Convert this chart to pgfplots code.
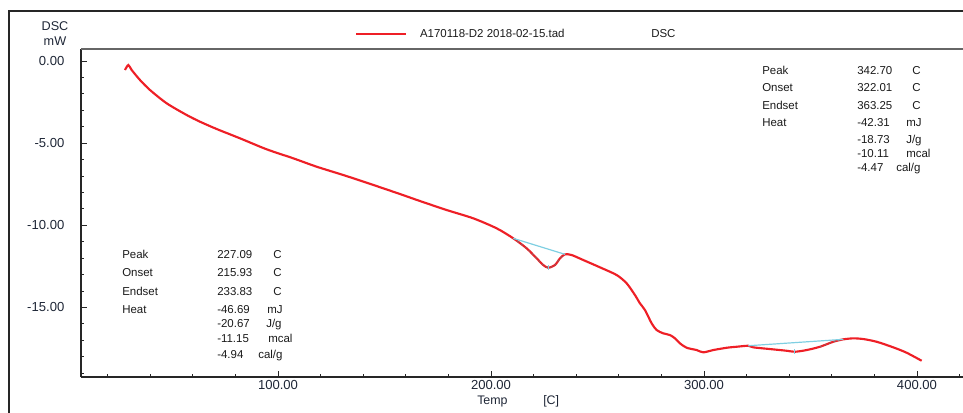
\documentclass[border=0pt]{standalone}
\usepackage{pgfplots}
\pgfplotsset{compat=1.18}
\usepackage{fontspec}
\setmainfont{Liberation Sans}

\definecolor{dscred}{HTML}{EE1F26}
\definecolor{basecyan}{HTML}{7FCFE2}
\definecolor{tickcol}{HTML}{1E2636}
\definecolor{txtcol}{HTML}{1A1A1A}

% pixel grid of the instrument printout: (x,y) from the top-left corner
\tikzset{px/.style={shift={(-60.75pt,282.75pt)}, x=0.75pt, y=-0.75pt}}
\newcommand{\annfont}{\fontsize{8.6}{10}\selectfont}

\begin{document}
\begin{tikzpicture}
\useasboundingbox (-60.75pt,-26.25pt) rectangle (661.5pt,282.75pt);
\clip (-60.75pt,-26.25pt) rectangle (661.5pt,282.75pt);

% outer frame of the printout
\begin{scope}[px]
  \draw[line width=0.8pt, black!85] (9,440) -- (9,11) -- (990,11);
\end{scope}

\begin{axis}[
  at={(0pt,0pt)}, anchor=south west, scale only axis,
  width=674.9pt, height=246pt,
  xmin=7.5, xmax=430, ymin=-19.23, ymax=0.73,
  axis lines=left,
  axis line style={-, line width=0.8pt, black!85},
  tick align=inside,
  xtick={100,200,300,400},
  xticklabels={100.00,200.00,300.00,400.00},
  minor xtick={20,40,...,420},
  ytick={-15,-10,-5,0},
  yticklabels={-15.00,-10.00,-5.00,0.00},
  minor ytick={-19,-18,...,0},
  major tick length=4.5pt, minor tick length=2.6pt,
  tick style={line width=0.7pt, black!85},
  ticklabel style={font=\fontsize{9.8}{12}\selectfont, text=tickcol},
  yticklabel style={anchor=east, xshift=-9pt},
  xticklabel style={anchor=north, yshift=1pt},
  legend style={at={(0.3045,1.0457)}, anchor=west, draw=none, fill=none,
    inner sep=0pt, column sep=7.5pt,
    font=\annfont, text=txtcol},
  legend image code/.code={\draw[#1] (0pt,0pt) -- (37.5pt,0pt);},
]

% DSC heat-flow trace
\addplot[color=dscred, line width=1.6pt, smooth, tension=0.45] coordinates {
(28.16,-0.548) (29.71,-0.243) (31.30,-0.548) (35.20,-1.156) (39.89,-1.765)
(47.73,-2.575) (57.12,-3.287) (63.37,-3.694) (71.21,-4.139) (82.15,-4.705)
(94.68,-5.374) (107.17,-5.922) (118.16,-6.433) (130.65,-6.939) (141.63,-7.407)
(157.27,-8.095) (166.65,-8.521) (179.19,-9.069) (191.68,-9.574) (202.66,-10.183)
(210.46,-10.791) (216.75,-11.400) (221.44,-12.009) (224.54,-12.416) (226.89,-12.581)
(230.04,-12.416) (232.38,-12.009) (234.73,-11.765) (237.88,-11.808) (243.32,-12.112)
(251.16,-12.556) (259.00,-13.025) (263.70,-13.530) (267.59,-14.242) (269.94,-14.748)
(272.29,-15.155) (275.43,-15.965) (277.78,-16.373) (280.88,-16.573) (284.03,-16.677)
(286.37,-16.878) (288.72,-17.182) (291.87,-17.450) (296.56,-17.590) (299.66,-17.730)
(304.35,-17.590) (310.65,-17.450) (315.34,-17.389) (320.79,-17.328) (323.13,-17.425)
(330.97,-17.529) (338.81,-17.632) (342.71,-17.693) (348.20,-17.590) (354.45,-17.389)
(360.69,-17.085) (365.39,-16.939) (370.08,-16.878) (374.78,-16.920) (381.07,-17.085)
(388.86,-17.425) (395.15,-17.754) (402.19,-18.241)
};
\addlegendentry{A170118-D2 2018-02-15.tad\hspace{65pt}DSC}

% integration limits on the curve
\addplot[black!55, line width=0.5pt, dash pattern=on 1.6pt off 2pt, smooth, tension=0.45, forget plot] coordinates {
(210.46,-10.791) (216.75,-11.400) (221.44,-12.009) (224.54,-12.416) (226.89,-12.581)
(230.04,-12.416) (232.38,-12.009) (234.73,-11.765)
};
\addplot[black!55, line width=0.5pt, dash pattern=on 1.6pt off 2pt, smooth, tension=0.45, forget plot] coordinates {
(354.45,-17.389) (360.69,-17.085) (365.39,-16.939)
};

% peak baselines
\addplot[color=basecyan, line width=0.9pt, forget plot] coordinates {(210.46,-10.791) (234.73,-11.765)};
\addplot[color=basecyan, line width=0.9pt, forget plot] coordinates {(320.79,-17.328) (365.39,-16.939)};
% peak markers
\addplot[color=basecyan, line width=0.8pt, forget plot] coordinates {(226.89,-12.42) (226.89,-12.74)};
\addplot[color=basecyan, line width=0.8pt, forget plot] coordinates {(342.71,-17.53) (342.71,-17.85)};
\end{axis}

\begin{scope}[px]
  % header line and axis titles
  \draw[line width=1.3pt, black!60] (81,49) -- (990,49);
  \node[anchor=base, font=\fontsize{9.5}{11}\selectfont, text=tickcol] at (55,30) {DSC};
  \node[anchor=base, font=\fontsize{9.5}{11}\selectfont, text=tickcol] at (55,45.5) {mW};
  \node[anchor=base west, inner sep=0pt, font=\fontsize{9.3}{11}\selectfont, text=tickcol] at (477,404) {Temp};
  \node[anchor=base west, inner sep=0pt, font=\fontsize{9.3}{11}\selectfont, text=tickcol] at (543,404) {[C]};

  % first peak results
  \begin{scope}[every node/.style={anchor=base west, inner sep=0pt, font=\annfont, text=txtcol}]
    \node at (122,258) {Peak};   \node at (217,258) {227.09}; \node at (273,258) {C};
    \node at (122,276) {Onset};  \node at (217,276) {215.93}; \node at (273,276) {C};
    \node at (122,295) {Endset}; \node at (217,295) {233.83}; \node at (273,295) {C};
    \node at (122,313) {Heat};   \node at (217,313) {-46.69}; \node at (267,313) {mJ};
                                 \node at (217,327) {-20.67}; \node at (266,327) {J/g};
                                 \node at (217,342) {-11.15}; \node at (268,342) {mcal};
                                 \node at (217,358) {-4.94};  \node at (258,358) {cal/g};
    % second peak results
    \node at (762,74)  {Peak};   \node at (857,74)  {342.70}; \node at (912,74)  {C};
    \node at (762,91)  {Onset};  \node at (857,91)  {322.01}; \node at (912,91)  {C};
    \node at (762,109) {Endset}; \node at (857,109) {363.25}; \node at (912,109) {C};
    \node at (762,126) {Heat};   \node at (857,126) {-42.31}; \node at (906,126) {mJ};
                                 \node at (857,143) {-18.73}; \node at (906,143) {J/g};
                                 \node at (857,157) {-10.11}; \node at (906,157) {mcal};
                                 \node at (857,171) {-4.47};  \node at (896,171) {cal/g};
  \end{scope}
\end{scope}
\end{tikzpicture}
\end{document}
